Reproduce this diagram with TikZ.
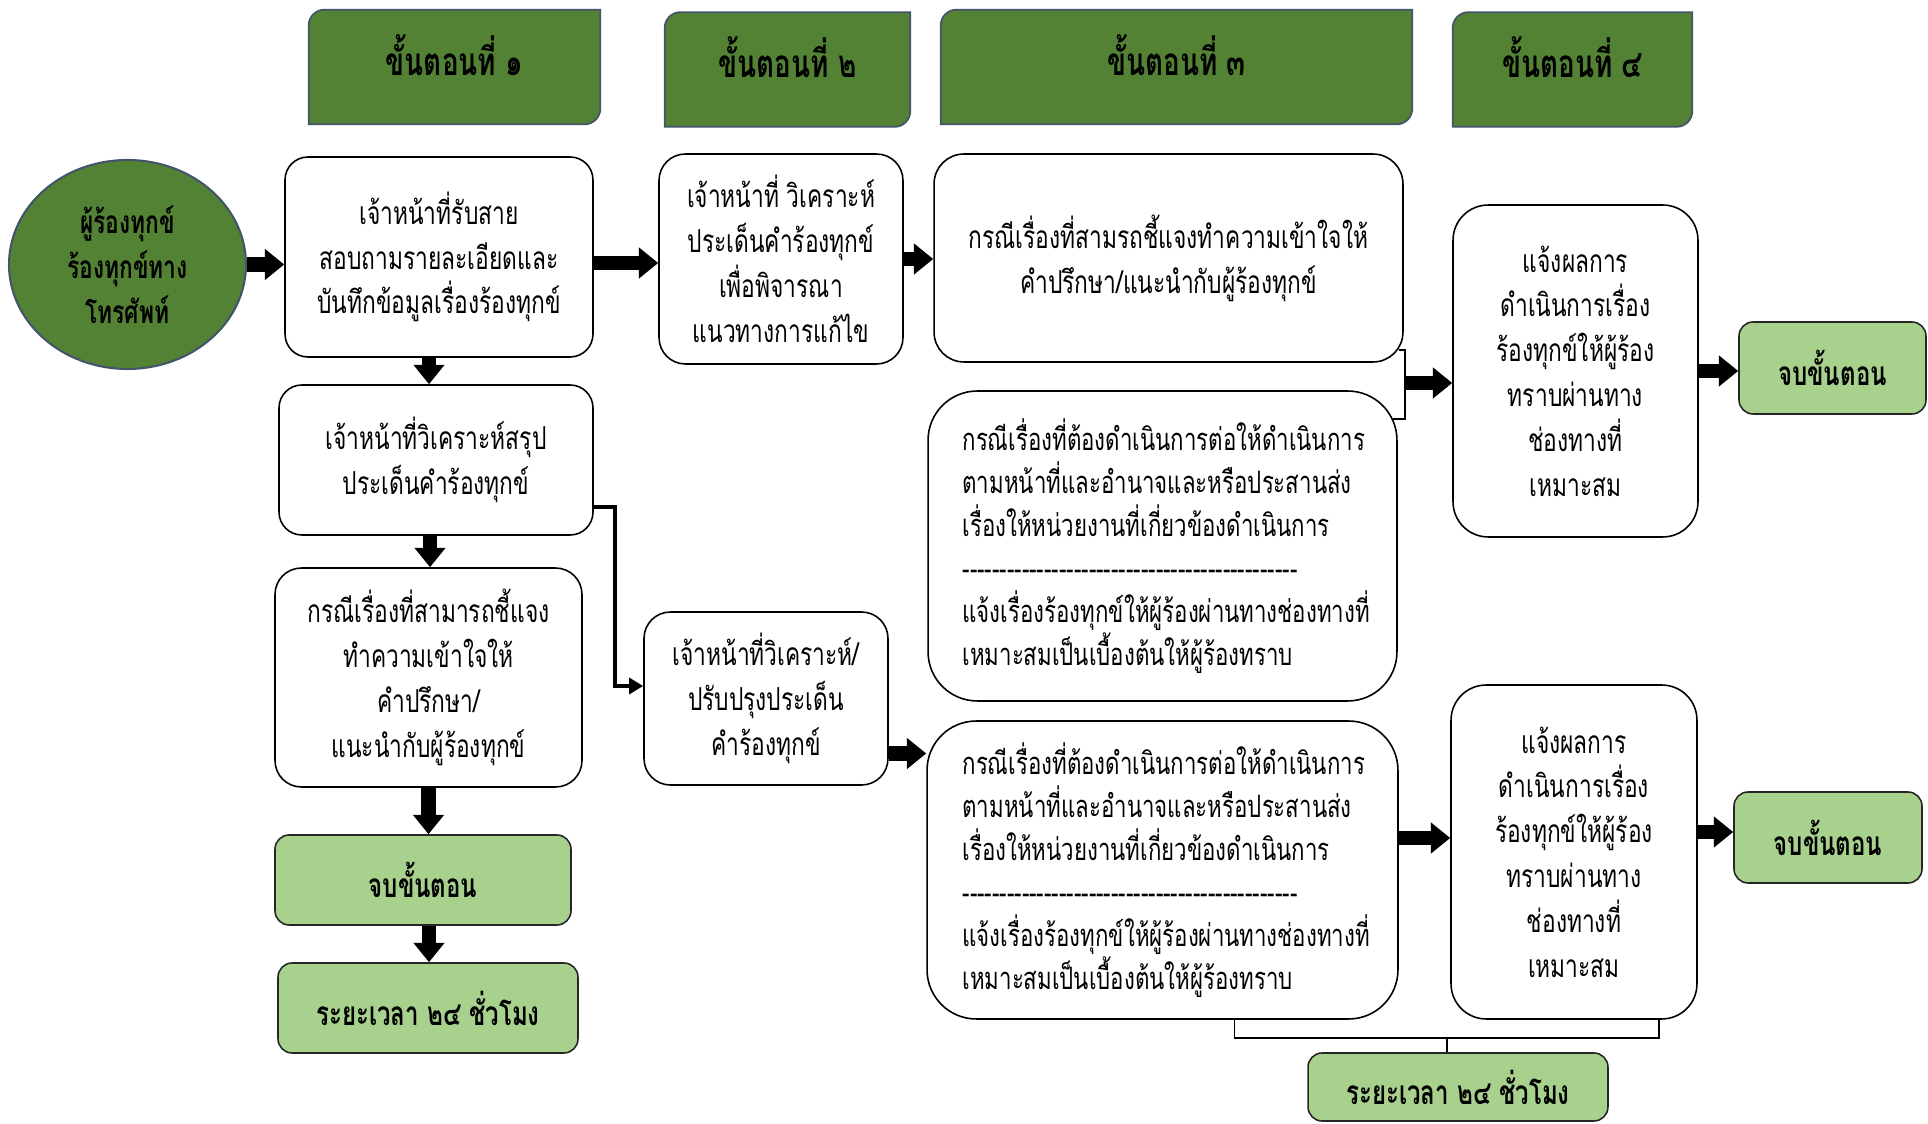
\documentclass[tikz,border=0pt]{standalone}
\usepackage{fontspec}
\newfontfamily\thaifont[Script=Thai, FakeStretch=0.72]{Loma}
\usetikzlibrary{shapes.geometric, arrows.meta, backgrounds}

\definecolor{stepgreen}{RGB}{84,130,53}
\definecolor{stepline}{RGB}{68,84,106}
\definecolor{endgreen}{RGB}{169,209,142}

\tikzset{
	txtbox/.style={draw, fill=white, line width=0.9pt, align=center, inner sep=4pt, font=\thaifont\fontsize{18}{25.5}\selectfont},
	casebox/.style={txtbox, rounded corners=28pt, align=left, text width=8cm, font=\thaifont\fontsize{17.6}{24.5}\selectfont},
	stephdr/.style={minimum width=#1, minimum height=2.28cm, text depth=14pt, font=\thaifont\bfseries\fontsize{22}{26}\selectfont},
	endbox/.style={draw=black!85, fill=endgreen, rounded corners=8pt, line width=0.9pt, font=\thaifont\bfseries\fontsize{19}{26}\selectfont},
	bigarrow/.style={line width=8.5pt, -{Triangle[length=11pt, width=17pt]}},
	elbowarrow/.style={line width=2.3pt, -{Triangle[length=8pt, width=9pt]}},
	bracket/.style={line width=1.1pt},
}
\newcommand{\dashrow}{\mbox{}\xleaders\hbox{-}\hskip 6.7cm\mbox{}}

\begin{document}
\begin{tikzpicture}[x=0.02cm, y=0.02cm]
				\useasboundingbox (0, 0) rectangle (1928, 1123);
				% Headers:
				\node[stephdr=5.82cm] (hdr1) at (454.5, 1056) {ขั้นตอนที่ ๑};
				\node[stephdr=4.9cm] (hdr2) at (787.5, 1053.5) {ขั้นตอนที่ ๒};
				\node[stephdr=9.42cm] (hdr3) at (1176.5, 1056) {ขั้นตอนที่ ๓};
				\node[stephdr=4.78cm] (hdr4) at (1572.5, 1053.5) {ขั้นตอนที่ ๔};
				\begin{pgfonlayer}{background}
					\foreach \h in {hdr1, hdr2, hdr3, hdr4}
						\filldraw[fill=stepgreen, draw=stepline, line width=1pt] (\h.south west) -- ([yshift=-9pt]\h.north west) arc[start angle=180, end angle=90, radius=9pt] -- (\h.north east) -- ([yshift=9pt]\h.south east) arc[start angle=0, end angle=-90, radius=9pt] -- cycle;
				\end{pgfonlayer}
				% Step 1:
				\node[ellipse, draw=stepline, fill=stepgreen, line width=1.2pt, minimum width=4.74cm, minimum height=4.18cm, align=center, font=\thaifont\bfseries\fontsize{18}{25.5}\selectfont] (caller) at (127.5, 858.5) {ผู้ร้องทุกข์\\ร้องทุกข์ทาง\\โทรศัพท์};
				\node[txtbox, rounded corners=13pt, minimum width=6.16cm, minimum height=4cm] (recv) at (439, 866) {เจ้าหน้าที่รับสาย\\สอบถามรายละเอียดและ\\บันทึกข้อมูลเรื่องร้องทุกข์};
				\node[txtbox, rounded corners=13pt, minimum width=6.28cm, minimum height=3cm] (sum) at (436, 663) {เจ้าหน้าที่วิเคราะห์สรุป\\ประเด็นคำร้องทุกข์};
				\node[txtbox, rounded corners=15pt, minimum width=6.14cm, minimum height=4.38cm] (explain) at (428.5, 445.5) {กรณีเรื่องที่สามารถชี้แจง\\ทำความเข้าใจให้\\คำปรึกษา/\\แนะนำกับผู้ร้องทุกข์};
				\node[endbox, minimum width=5.92cm, minimum height=1.8cm] (end1) at (423, 243) {จบขั้นตอน};
				\node[endbox, minimum width=6cm, minimum height=1.8cm] (time1) at (428, 115) {ระยะเวลา ๒๔ ชั่วโมง};
				% Step 2:
				\node[txtbox, rounded corners=15pt, minimum width=4.88cm, minimum height=4.2cm] (review) at (781, 864) {เจ้าหน้าที่ วิเคราะห์\\ประเด็นคำร้องทุกข์\\เพื่อพิจารณา\\แนวทางการแก้ไข};
				\node[txtbox, rounded corners=15pt, minimum width=4.88cm, minimum height=3.46cm] (revise) at (766, 424.5) {เจ้าหน้าที่วิเคราะห์/\\ปรับปรุงประเด็น\\คำร้องทุกข์};
				% Step 3:
				\node[txtbox, rounded corners=17pt, minimum width=9.38cm, minimum height=4.16cm] (advise) at (1168.5, 865) {กรณีเรื่องที่สามรถชี้แจงทำความเข้าใจให้\\คำปรึกษา/แนะนำกับผู้ร้องทุกข์};
				\node[casebox, minimum width=9.38cm, minimum height=6.2cm] (forward) at (1162.5, 577) {กรณีเรื่องที่ต้องดำเนินการต่อให้ดำเนินการ\\ตามหน้าที่และอำนาจและหรือประสานส่ง\\เรื่องให้หน่วยงานที่เกี่ยวข้องดำเนินการ\\\dashrow\\แจ้งเรื่องร้องทุกข์ให้ผู้ร้องผ่านทางช่องทางที่\\เหมาะสมเป็นเบื้องต้นให้ผู้ร้องทราบ};
				\node[casebox, minimum width=9.42cm, minimum height=5.96cm] (transfer) at (1162.5, 253) {กรณีเรื่องที่ต้องดำเนินการต่อให้ดำเนินการ\\ตามหน้าที่และอำนาจและหรือประสานส่ง\\เรื่องให้หน่วยงานที่เกี่ยวข้องดำเนินการ\\\dashrow\\แจ้งเรื่องร้องทุกข์ให้ผู้ร้องผ่านทางช่องทางที่\\เหมาะสมเป็นเบื้องต้นให้ผู้ร้องทราบ};
				% Step 4:
				\node[txtbox, rounded corners=20pt, minimum width=4.9cm, minimum height=6.64cm] (notify1) at (1575.5, 752) {แจ้งผลการ\\ดำเนินการเรื่อง\\ร้องทุกข์ให้ผู้ร้อง\\ทราบผ่านทาง\\ช่องทางที่\\เหมาะสม};
				\node[txtbox, rounded corners=20pt, minimum width=4.92cm, minimum height=6.68cm] (notify2) at (1574, 271) {แจ้งผลการ\\ดำเนินการเรื่อง\\ร้องทุกข์ให้ผู้ร้อง\\ทราบผ่านทาง\\ช่องทางที่\\เหมาะสม};
				\node[endbox, minimum width=3.74cm, minimum height=1.84cm] (end2) at (1832.5, 755) {จบขั้นตอน};
				\node[endbox, minimum width=3.76cm, minimum height=1.82cm] (end3) at (1828, 285.5) {จบขั้นตอน};
				\node[endbox, minimum width=6cm, minimum height=1.36cm] (time2) at (1458, 36) {ระยะเวลา ๒๔ ชั่วโมง};
				% Arrows:
				\draw[bigarrow] (caller.east) -- (caller.east -| recv.west);
				\draw[bigarrow] ([yshift=-0.12cm]recv.east) -- ([yshift=-0.12cm]recv.east -| review.west);
				\draw[bigarrow] (review.east) -- (review.east -| advise.west);
				\draw[bigarrow] ([xshift=-0.2cm]recv.south) -- ([xshift=-0.2cm]recv.south |- sum.north);
				\draw[bigarrow] ([xshift=-0.12cm]sum.south) -- ([xshift=-0.12cm]sum.south |- explain.north);
				\draw[bigarrow] (explain.south) -- (explain.south |- end1.north);
				\draw[bigarrow] ([xshift=0.12cm]end1.south) -- ([xshift=0.12cm]end1.south |- time1.north);
				\draw[elbowarrow] ([yshift=-0.94cm]sum.east) -- ++(21, 0) |- ([yshift=0.25cm]revise.west);
				\draw[bigarrow] ([yshift=-1.1cm]revise.east) -- ([yshift=-1.1cm]revise.east -| transfer.west);
				\coordinate (join1) at (1405, 740);
				\draw[bracket] ([shift={(-5, 13)}]advise.south east) -| (join1) |- ([shift={(-5, -29)}]forward.north east);
				\draw[bigarrow] (join1) -- (join1 -| notify1.west);
				\draw[bigarrow] (notify1.east) -- (notify1.east -| end2.west);
				\draw[bigarrow] ([yshift=0.64cm]transfer.east) -- ([yshift=0.64cm]transfer.east -| notify2.west);
				\draw[bigarrow] ([yshift=0.4cm]notify2.east) -- ([yshift=0.4cm]notify2.east -| end3.west);
				\coordinate (join2) at (1447, 85);
				\draw[bracket] ([xshift=1.44cm]transfer.south) |- (join2) -| ([xshift=1.7cm]notify2.south);
				\draw[bracket] (join2) -- (join2 |- time2.north);
\end{tikzpicture}
\end{document}
